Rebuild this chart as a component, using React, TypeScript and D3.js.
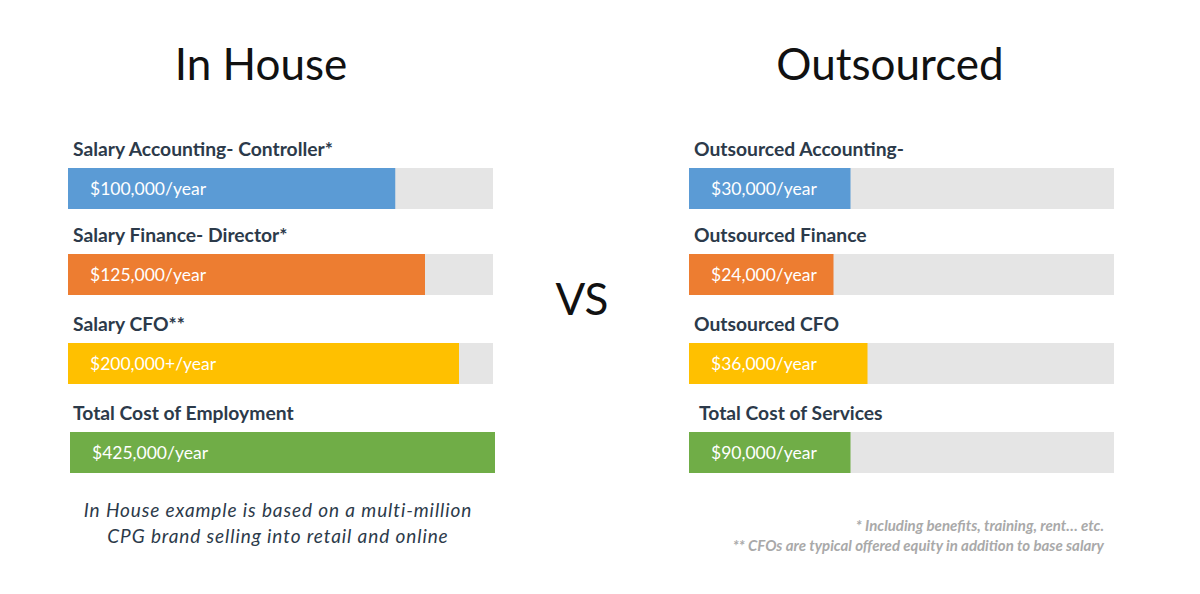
import React from "react";
import * as d3 from "d3";

// left panel
const inHouseLabels = ["Salary Accounting- Controller*", "Salary Finance- Director*", "Salary CFO**", "Total Cost of Employment"];
const inHouseValues = ["$100,000/year", "$125,000/year", "$200,000+/year", "$425,000/year"];
const inHouseFill = [77, 84, 92, 100];

// right panel
const outLabels = ["Outsourced Accounting-", "Outsourced Finance", "Outsourced CFO", "Total Cost of Services"];
const outValues = ["$30,000/year", "$24,000/year", "$36,000/year", "$90,000/year"];
const outFill = [38, 34, 42, 38];

const colors = ["#5b9bd5", "#ed7d31", "#ffc000", "#70ad47"];

const W = 1200;
const H = 594;
const trackW = 425;
const barH = 41;
const rowY = [168, 254, 343, 432];
const font = "Lato, 'Open Sans', sans-serif";

function Panel({ x0, labels, values, fill, title, titleX }) {
  const x = d3.scaleLinear().domain([0, 100]).range([0, trackW]);
  return (
    <g>
      <text x={titleX} y={80} textAnchor="middle" fontSize={44} fontFamily={font} fill="#111">{title}</text>
      {labels.map((l, i) => {
        const last = i === labels.length - 1;
        const bx = x0 + (last && fill[i] === 100 ? 2 : 0);
        const lx = x0 + 5 + (last && fill[i] !== 100 ? 5 : 0);
        return (
          <g key={i}>
            <text x={lx} y={rowY[i] - 12} fontSize={19.3} fontWeight="bold" fontFamily={font} fill="#2c3a4a">{l}</text>
            {fill[i] < 100 && <rect x={x0} y={rowY[i]} width={x(100)} height={barH} fill="#e5e5e5" />}
            <rect x={bx} y={rowY[i]} width={x(fill[i])} height={barH} fill={colors[i]} />
            <text x={x0 + 22 + (last && fill[i] === 100 ? 2 : 0)} y={rowY[i] + 27} fontSize={17.5} fontFamily={font} fill="#fff">{values[i]}</text>
          </g>
        );
      })}
    </g>
  );
}

export default function App() {
  return (
    <svg width={W} height={H} style={{ display: "block", position: "absolute", left: 0, top: 0 }}>
      <rect width={W} height={H} fill="#fff" />
      <Panel x0={68} labels={inHouseLabels} values={inHouseValues} fill={inHouseFill} title="In House" titleX={261} />
      <Panel x0={689} labels={outLabels} values={outValues} fill={outFill} title="Outsourced" titleX={890} />
      <text x={582} y={315} textAnchor="middle" fontSize={44} fontFamily={font} fill="#111">VS</text>
      <g fontFamily={font} fontStyle="italic" fontSize={19} letterSpacing={0.9} fill="#2c3a4a" textAnchor="middle">
        <text x={278} y={517}>In House example is based on a multi-million</text>
        <text x={278} y={543}>CPG brand selling into retail and online</text>
      </g>
      <g fontFamily={font} fontStyle="italic" fontWeight="bold" fontSize={15} fill="#a9a9a9" textAnchor="end">
        <text x={1104} y={531}>* Including benefits, training, rent… etc.</text>
        <text x={1104} y={551}>** CFOs are typical offered equity in addition to base salary</text>
      </g>
    </svg>
  );
}
